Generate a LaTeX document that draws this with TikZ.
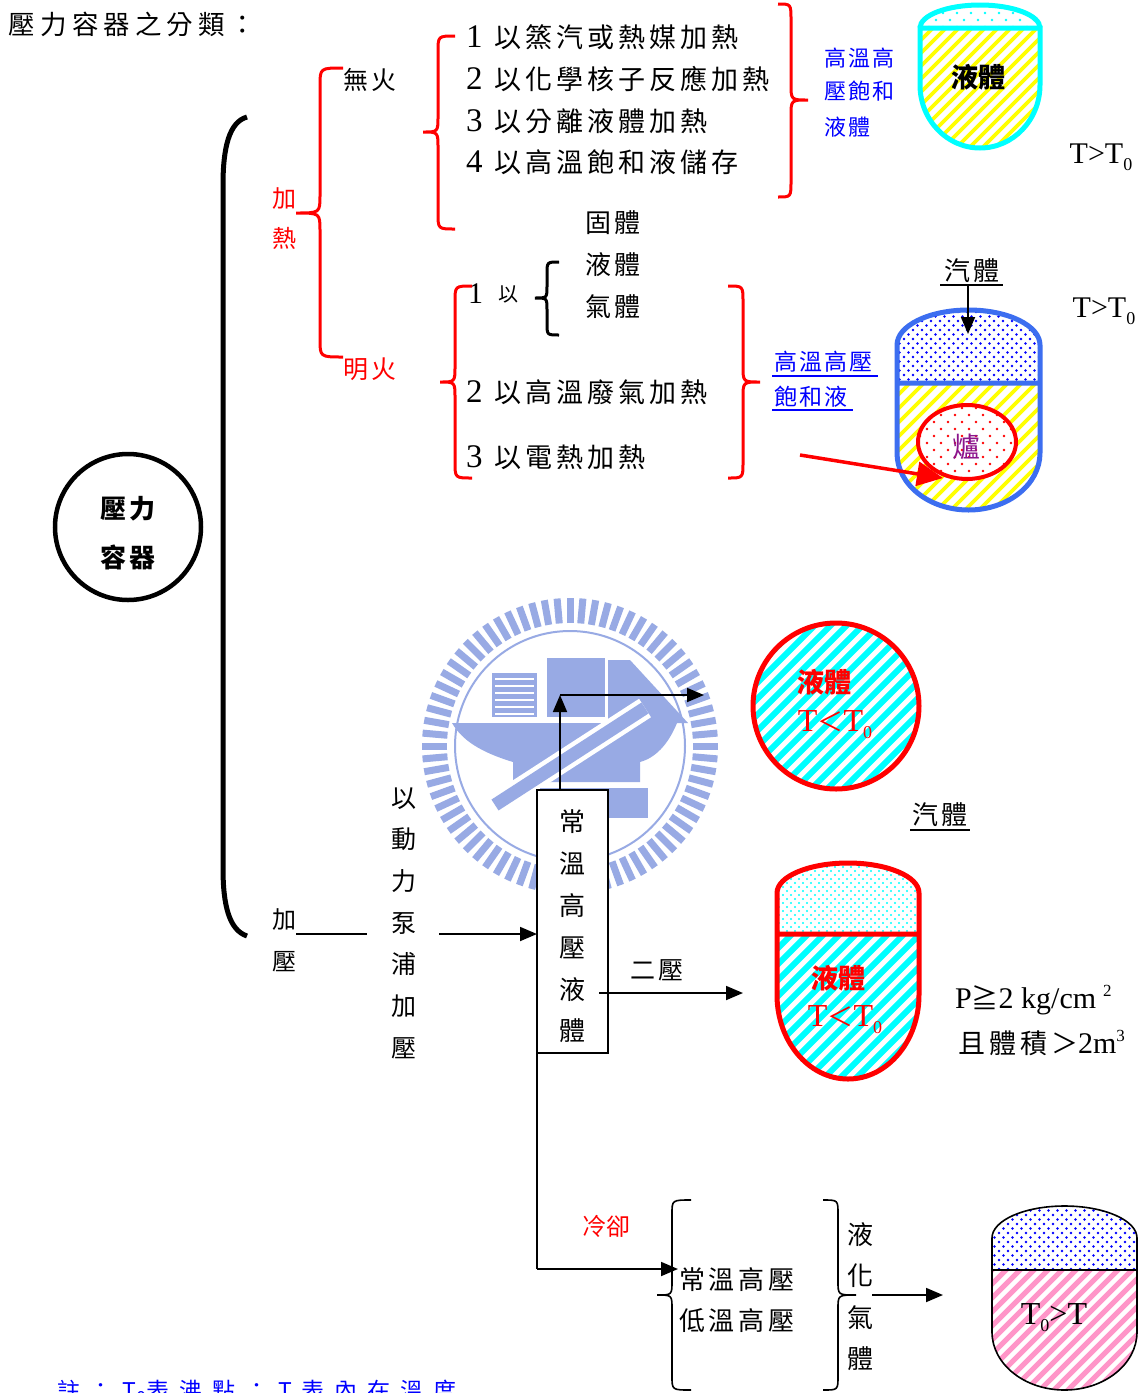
\documentclass[tikz,border=0pt]{standalone}
\usepackage{fontspec}
\setmainfont{Liberation Serif}
\newfontfamily\cjk{Noto Sans CJK TC}
\newfontfamily\cjka[LetterSpace=10]{Noto Sans CJK TC}
\newfontfamily\cjkb[LetterSpace=15]{Noto Sans CJK TC}
\newfontfamily\cjkt[LetterSpace=19]{Noto Sans CJK TC}
\newfontfamily\cjkc[LetterSpace=43]{Noto Sans CJK TC}
\usetikzlibrary{arrows.meta}
\definecolor{vcyan}{RGB}{0,255,255}
\definecolor{vblue}{RGB}{60,110,240}
\definecolor{vyel}{RGB}{255,255,0}
\definecolor{vpink}{RGB}{255,150,200}
\definecolor{vred}{RGB}{255,0,0}
\definecolor{tblue}{RGB}{0,0,255}
\definecolor{logo}{RGB}{152,170,228}
\definecolor{purp}{RGB}{140,20,140}
\newcommand\fsz[1]{\fontsize{#1}{#1}\selectfont}
\newcommand\fsl[2]{\fontsize{#1}{#2}\selectfont}
\newcommand\dg[1]{{\rmfamily\fsz{33}#1}\hspace{12pt}}
\newcommand\sbs[1]{\raisebox{-0.22em}{\fsz{18}#1}}
\newcommand\sps[2]{\raisebox{12pt}{\fsz{#1}#2}}
\newcommand\brc[8]{\draw[#8] (#1,#4) .. controls (#2,#4) .. (#2,{#4+#7}) -- (#2,{#5-#7}) .. controls (#2,#5) .. (#3,#5) .. controls (#2,#5) .. (#2,{#5+#7}) -- (#2,{#6-#7}) .. controls (#2,#6) .. (#1,#6);}
\begin{document}
\begin{tikzpicture}[x=1pt,y=-1pt,
 tx/.style={inner sep=0pt,outer sep=0pt},
 arr/.style={-{Triangle[length=17pt,width=14pt]},line width=1.8pt},
 bigarr/.style={-{Triangle[length=26pt,width=24pt]},line width=3.5pt,vred}]
\fill[white] (0,0) rectangle (1143,1393);
\useasboundingbox (0,0) rectangle (1143,1393);

% ---------- watermark ----------
\begin{scope}[shift={(570,746)}]
 \foreach \a in {0,5,...,355} \draw[logo,line width=7pt] (\a:123) -- (\a:148);
 \draw[logo,line width=2pt] (0,0) circle[radius=115];
\end{scope}
\fill[logo] (452,723) -- (677,723) .. controls (668,745) and (655,758) .. (640,762) -- (640,782) -- (513,782) -- (513,762) .. controls (480,752) and (462,740) .. cycle;
\fill[logo] (492,673) rectangle (537,717);
\foreach \yy in {679,686,...,714} \draw[white,line width=2pt] (495,\yy) -- (534,\yy);
\fill[logo] (547,658) rectangle (605,717);
\fill[logo] (608,660) -- (630,660) -- (688,723) -- (608,723) -- cycle;
\draw[white,line width=22pt] (495,805) -- (645,708);
\draw[logo,line width=13pt] (495,805) -- (645,708);
\fill[logo] (540,788) rectangle (648,818);

% ---------- title & root ----------
\node[tx,anchor=west,font=\cjkt\fsz{26.5}] (title) at (9,24) {壓力容器之分類：};
\draw[line width=5pt] (247,117) .. controls (229,122) and (223,148) .. (223,185) -- (223,868) .. controls (223,905) and (229,930) .. (247,936);
\node[tx,draw,circle,line width=4.5pt,minimum size=146pt] (pv) at (128,527) {};
\node[tx,font=\cjka\bfseries\fsz{26}] (pv1) at (128,509) {壓力};
\node[tx,font=\cjka\bfseries\fsz{26}] (pv2) at (128,557) {容器};

% ---------- heating ----------
\brc{343}{320}{296}{68}{213}{357}{18}{vred,line width=3pt}
\node[tx,font=\cjk\fsl{24}{40},text=vred,align=center] (jr) at (284,219) {加\\熱};
\node[tx,anchor=west,font=\cjkb\fsz{25}] (wh) at (343,80) {無火};
\node[tx,anchor=west,font=\cjkb\fsz{25},text=vred] (mh) at (343,369) {明火};

\brc{455}{438}{423}{36}{132}{229}{16}{vred,line width=3pt}
\brc{778}{791}{808}{4}{100}{197}{16}{vred,line width=3pt}
\node[tx,anchor=west,font=\cjkb\fsz{27}] (a1) at (466,37) {\dg{1}以篜汽或熱媒加熱};
\node[tx,anchor=west,font=\cjkb\fsz{27}] (a2) at (466,79) {\dg{2}以化學核子反應加熱};
\node[tx,anchor=west,font=\cjkb\fsz{27}] (a3) at (466,121) {\dg{3}以分離液體加熱};
\node[tx,anchor=west,font=\cjkb\fsz{27}] (a4) at (466,162) {\dg{4}以高溫飽和液儲存};
\node[tx,anchor=west,font=\cjka\fsz{22},text=tblue] (b1) at (824,58) {高溫高};
\node[tx,anchor=west,font=\cjka\fsz{22},text=tblue] (b2) at (824,91) {壓飽和};
\node[tx,anchor=west,font=\cjka\fsz{22},text=tblue] (b3) at (824,127) {液體};

% vessel 1
\begin{scope}
\clip (920,28) -- (920,85) arc[start angle=180,end angle=0,x radius=60,y radius=63] -- (1040,28) -- cycle;
\foreach \k in {800,813,...,1040} \draw[vyel,line width=3.6pt] (\k,148) -- ++(120,-120);
\end{scope}
\begin{scope}
\clip (920,28) arc[start angle=180,end angle=360,x radius=60,y radius=23] -- cycle;
\foreach \x in {922,936,...,1040} \foreach \y in {6,20,...,30} {\fill[vcyan] (\x,\y) circle[radius=1.3]; \fill[vcyan] (\x+7,\y+7) circle[radius=1.3];}
\end{scope}
\draw[vcyan,line width=5pt] (920,28) arc[start angle=180,end angle=360,x radius=60,y radius=23];
\draw[vcyan,line width=5pt] (920,28) -- (920,85) arc[start angle=180,end angle=0,x radius=60,y radius=63] -- (1040,28) -- cycle;
\node[tx,font=\cjk\bfseries\fsz{27}] (v1t) at (978,77) {液體};
\node[tx,font=\fsz{30}] (tt1) at (1101,157) {T>T\sbs{0}};

% open flame
\node[tx,font=\cjka\fsz{26}] (g1) at (613,223) {固體};
\node[tx,font=\cjka\fsz{26}] (g2) at (613,265) {液體};
\node[tx,font=\cjka\fsz{26}] (g3) at (613,307) {氣體};
\node[tx,anchor=west,font=\fsz{30}] (m1n) at (468,294) {1};
\node[tx,font=\cjk\fsz{20}] (m1y) at (508,294) {以};
\brc{559}{547}{535}{262}{298}{335}{12}{line width=3pt}
\brc{472}{455}{440}{286}{382}{478}{16}{vred,line width=3pt}
\brc{728}{743}{760}{286}{382}{478}{16}{vred,line width=3pt}
\node[tx,anchor=west,font=\cjkb\fsz{27}] (m2) at (466,392) {\dg{2}以高溫廢氣加熱};
\node[tx,anchor=west,font=\cjkb\fsz{27}] (m3) at (466,457) {\dg{3}以電熱加熱};
\node[tx,anchor=west,font=\cjka\fsz{23},text=tblue] (u1) at (774,362) {高溫高壓};
\node[tx,anchor=west,font=\cjka\fsz{23},text=tblue] (u2) at (774,397) {飽和液};
\draw[tblue,line width=1.6pt] (772,376) -- (878,376);
\draw[tblue,line width=1.6pt] (772,410) -- (853,410);

% vessel 2
\begin{scope}
\clip (897,383) -- (897,453) arc[start angle=180,end angle=0,x radius=71.5,y radius=57] -- (1040,383) -- cycle;
\foreach \k in {767,781,...,1045} \draw[vyel,line width=3.8pt] (\k,512) -- ++(130,-130);
\end{scope}
\begin{scope}
\clip (897,383) -- (897,345) arc[start angle=180,end angle=360,x radius=71.5,y radius=35] -- (1040,383) -- cycle;
\foreach \x in {895,904,...,1044} \foreach \y in {312,321,...,384} {\fill[tblue] (\x,\y) circle[radius=1.4]; \fill[tblue] (\x+4.5,\y+4.5) circle[radius=1.4];}
\end{scope}
\draw[vblue,line width=5pt] (897,383) -- (897,345) arc[start angle=180,end angle=360,x radius=71.5,y radius=35] -- (1040,383) (897,383) -- (897,453) arc[start angle=180,end angle=0,x radius=71.5,y radius=57] -- (1040,383) -- cycle;
\fill[white] (967,442) ellipse[x radius=49,y radius=37];
\begin{scope}
\clip (967,442) ellipse[x radius=49,y radius=37];
\foreach \x in {920,934,...,1016} \foreach \y in {408,422,...,480} {\fill[vred] (\x,\y) circle[radius=1.3]; \fill[vred] (\x+7,\y+7) circle[radius=1.3];}
\end{scope}
\draw[vred,line width=4pt] (967,442) ellipse[x radius=49,y radius=37];
\node[tx,font=\cjk\fsz{28},text=purp] (lu) at (966,447) {爐};
\coordinate (ra0) at (800,455);
\coordinate (ra1) at (943,478);
\draw[bigarr] (ra0) -- (ra1);
\node[tx,font=\cjka\fsz{26}] (q1) at (972,271) {汽體};
\draw[line width=1.6pt] (940,285) -- (1003,285);
\coordinate (q1a) at (968,285);
\coordinate (q1b) at (968,334);
\draw[arr] (q1a) -- (q1b);
\node[tx,font=\fsz{30}] (tt2) at (1104,311) {T>T\sbs{0}};

% ---------- pressurising ----------
\node[tx,font=\cjk\fsl{24}{42},align=center] (jy) at (284,940) {加\\壓};
\coordinate (l0) at (296,934);
\coordinate (l1) at (367,934);
\draw[line width=1.8pt] (l0) -- (l1);
\node[tx,font=\cjk\fsl{25}{41.7},align=center] (pump) at (404,923) {以\\動\\力\\泵\\浦\\加\\壓};
\node[tx,draw,line width=1.5pt,fill=white,minimum width=71pt,minimum height=263pt] (box) at (572.5,921.5) {};
\node[tx,font=\cjk\fsl{26}{41.8},align=center] (boxt) at (572,926.5) {常\\溫\\高\\壓\\液\\體};
\coordinate (p0) at (439,934);
\draw[arr] (p0) -- (p0 -| box.west);
\coordinate (up1) at (560,695);
\coordinate (up2) at (704,695);
\draw[arr] (box.north -| up1) -- (up1);
\draw[arr] (up1) -- (up2);

% circle vessel
\begin{scope}
\clip (836,706) circle[radius=83];
\foreach \k in {560,576,...,930} \draw[vcyan,line width=6pt] (\k,800) -- ++(200,-200);
\end{scope}
\draw[vred,line width=5pt] (836,706) circle[radius=83];
\node[tx,font=\cjk\bfseries\fsz{27},text=vred] (c1) at (824,682) {液體};
\node[tx,font=\fsz{32},text=vred] (c2) at (835,725) {T{\cjk\fsz{26}＜}T\sbs{0}};
\node[tx,font=\cjka\fsz{26}] (q2) at (940,815) {汽體};
\draw[line width=1.6pt] (910,830) -- (970,830);

% vessel 3
\begin{scope}
\clip (777,934) -- (777,995) arc[start angle=180,end angle=0,x radius=71,y radius=84] -- (919,934) -- cycle;
\foreach \k in {630,646,...,925} \draw[vcyan,line width=6pt] (\k,1080) -- ++(150,-150);
\end{scope}
\begin{scope}
\clip (777,934) -- (777,893) arc[start angle=180,end angle=360,x radius=71,y radius=30] -- (919,934) -- cycle;
\foreach \x in {775,783,...,921} \foreach \y in {863,871,...,935} {\fill[vcyan] (\x,\y) circle[radius=1.2]; \fill[vcyan] (\x+4,\y+4) circle[radius=1.2];}
\end{scope}
\draw[vred,line width=5pt] (777,934) -- (777,893) arc[start angle=180,end angle=360,x radius=71,y radius=30] -- (919,934) (777,934) -- (777,995) arc[start angle=180,end angle=0,x radius=71,y radius=84] -- (919,934) -- cycle;
\node[tx,font=\cjk\bfseries\fsz{27},text=vred] (v3a) at (838,978) {液體};
\node[tx,font=\fsz{32},text=vred] (v3b) at (845,1020) {T{\cjk\fsz{26}＜}T\sbs{0}};
\node[tx,anchor=west,font=\cjkb\fsz{25}] (ey) at (630,970) {二壓};
\coordinate (e0) at (599,993);
\coordinate (e1) at (743,993);
\draw[arr] (e0) -- (e1);
\node[tx,anchor=west,font=\fsz{30}] (pc) at (955,1000) {P{\cjk\fsz{27}≧}2 kg/cm\hspace{7pt}\sps{17}{2}};
\node[tx,anchor=west,font=\fsz{30}] (vc) at (958,1043) {{\cjkb\fsz{27}且體積＞}2m\sps{17}{3}};

% ---------- cooling ----------
\coordinate (d1) at (537,1269);
\coordinate (d2) at (678,1269);
\draw[line width=1.8pt] (box.south west) -- (d1);
\draw[arr] (d1) -- (d2);
\node[tx,font=\cjk\fsz{24},text=vred] (lq) at (606,1226) {冷卻};
\brc{691}{672}{657}{1200}{1295}{1390}{14}{line width=1.6pt}
\brc{823}{838}{856}{1200}{1295}{1390}{14}{line width=1.6pt}
\node[tx,anchor=west,font=\cjkb\fsz{26}] (n1) at (679,1280) {常溫高壓};
\node[tx,anchor=west,font=\cjkb\fsz{26}] (n2) at (679,1321) {低溫高壓};
\node[tx,font=\cjk\fsl{26}{41.3},align=center] (lh) at (860,1296.5) {液\\化\\氣\\體};
\coordinate (h0) at (872,1295);
\coordinate (h1) at (943,1295);
\draw[arr] (h0) -- (h1);

% vessel 4
\begin{scope}
\clip (992,1270) -- (992,1332) arc[start angle=180,end angle=0,x radius=72.5,y radius=58] -- (1137,1270) -- cycle;
\foreach \k in {870,884,...,1140} \draw[vpink,line width=5pt] (\k,1392) -- ++(125,-125);
\end{scope}
\begin{scope}
\clip (992,1270) -- (992,1238) arc[start angle=180,end angle=360,x radius=72.5,y radius=32] -- (1137,1270) -- cycle;
\foreach \x in {990,999,...,1140} \foreach \y in {1206,1215,...,1272} {\fill[tblue] (\x,\y) circle[radius=1.3]; \fill[tblue] (\x+4.5,\y+4.5) circle[radius=1.3];}
\end{scope}
\draw[line width=1.6pt] (992,1270) -- (992,1238) arc[start angle=180,end angle=360,x radius=72.5,y radius=32] -- (1137,1270) (992,1270) -- (992,1332) arc[start angle=180,end angle=0,x radius=72.5,y radius=58] -- (1137,1270) -- cycle;
\node[tx,font=\fsz{32}] (v4t) at (1054,1318) {T\sbs{0}>T};

% footnote (cut by the page edge, as in the original)
\node[tx,anchor=base west,font=\cjkc\fsz{23},text=tblue] (fn) at (57,1399) {註：T\sbs{0}表沸點：T表內在溫度};
\end{tikzpicture}
\end{document}
